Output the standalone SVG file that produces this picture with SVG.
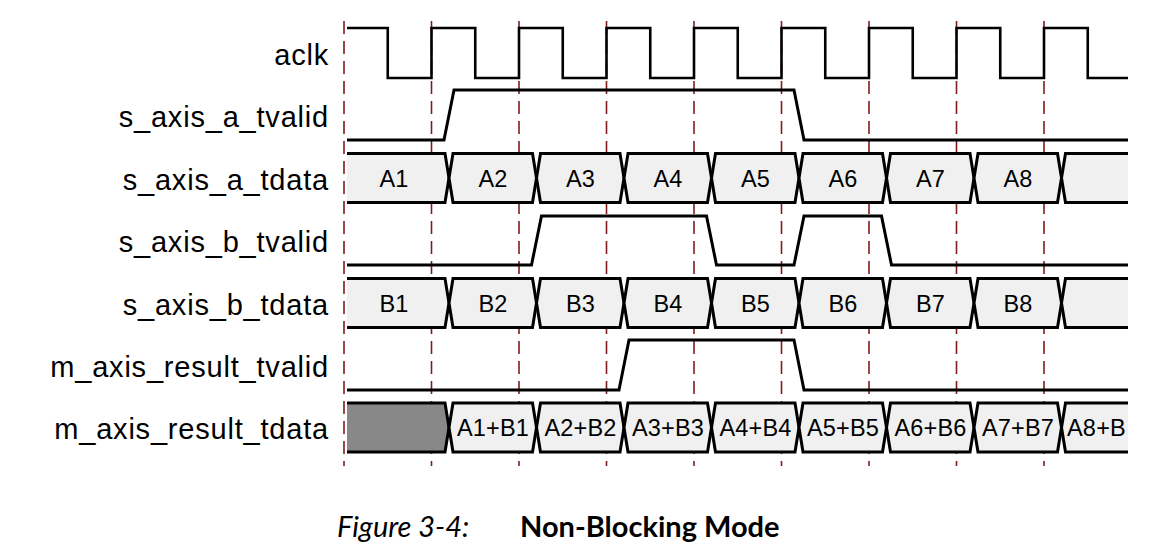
<svg xmlns="http://www.w3.org/2000/svg" xmlns:xlink="http://www.w3.org/1999/xlink" width="1163" height="556" viewBox="0 0 1163 556">
<style>
.lbl{font-family:"Liberation Sans",Arial,sans-serif;font-size:29px;letter-spacing:0.8px;fill:#000;text-anchor:end}
.dat{font-family:"Liberation Sans",Arial,sans-serif;font-size:23.5px;letter-spacing:0.2px;fill:#000;text-anchor:middle}
.grid{stroke:#7f1d1d;stroke-width:1.6;stroke-dasharray:13 7;fill:none}
.clk{stroke:#000;stroke-width:2.6;fill:none}
.sig{stroke:#000;stroke-width:3;fill:none;stroke-linejoin:miter}
.bus{stroke:#000;stroke-width:3;fill:#f0f0f0}
.busx{stroke:#000;stroke-width:3;fill:#888888}
.cap{font-family:"Lato","Open Sans",sans-serif;font-size:29px;fill:#000}
</style>
<defs>
<path id="hex" d="M0 24.5 L4 0 H83.5 L87.5 24.5 L83.5 49 H4 Z"/>
</defs>
<rect width="1163" height="556" fill="#fff"/>
<g id="grid">
<line class="grid" x1="344" y1="21" x2="344" y2="466"/>
<line class="grid" x1="431.5" y1="21" x2="431.5" y2="466"/>
<line class="grid" x1="519" y1="21" x2="519" y2="466"/>
<line class="grid" x1="606.5" y1="21" x2="606.5" y2="466"/>
<line class="grid" x1="694" y1="21" x2="694" y2="466"/>
<line class="grid" x1="781.5" y1="21" x2="781.5" y2="466"/>
<line class="grid" x1="869" y1="21" x2="869" y2="466"/>
<line class="grid" x1="956.5" y1="21" x2="956.5" y2="466"/>
<line class="grid" x1="1044" y1="21" x2="1044" y2="466"/>
</g>
<g id="aclk">
<text class="lbl" x="329" y="65">aclk</text>
<path class="clk" d="M347 28 H387.75 V78 H431.5 V28 H475.25 V78 H519 V28 H562.75 V78 H606.5 V28 H650.25 V78 H694 V28 H737.75 V78 H781.5 V28 H825.25 V78 H869 V28 H912.75 V78 H956.5 V28 H1000.25 V78 H1044 V28 H1087.75 V78 H1128"/>
</g>
<g id="s_axis_a_tvalid">
<text class="lbl" x="329" y="127">s_axis_a_tvalid</text>
<path class="sig" d="M347 140 H444 L454 90 H794 L804 140 H1128"/>
</g>
<g id="s_axis_a_tdata">
<text class="lbl" x="329" y="190">s_axis_a_tdata</text>
<path class="bus" d="M347 153.5 H445 L449 178 L445 202.5 H347"/>
<use href="#hex" xlink:href="#hex" class="bus" x="449" y="153.5"/>
<use href="#hex" xlink:href="#hex" class="bus" x="536.5" y="153.5"/>
<use href="#hex" xlink:href="#hex" class="bus" x="624" y="153.5"/>
<use href="#hex" xlink:href="#hex" class="bus" x="711.5" y="153.5"/>
<use href="#hex" xlink:href="#hex" class="bus" x="799" y="153.5"/>
<use href="#hex" xlink:href="#hex" class="bus" x="886.5" y="153.5"/>
<use href="#hex" xlink:href="#hex" class="bus" x="974" y="153.5"/>
<path class="bus" d="M1128 153.5 H1065.5 L1061.5 178 L1065.5 202.5 H1128"/>
<text class="dat" x="394" y="186.5">A1</text>
<text class="dat" x="493" y="186.5">A2</text>
<text class="dat" x="580.5" y="186.5">A3</text>
<text class="dat" x="668" y="186.5">A4</text>
<text class="dat" x="755.5" y="186.5">A5</text>
<text class="dat" x="843" y="186.5">A6</text>
<text class="dat" x="930.5" y="186.5">A7</text>
<text class="dat" x="1018" y="186.5">A8</text>
</g>
<g id="s_axis_b_tvalid">
<text class="lbl" x="329" y="252">s_axis_b_tvalid</text>
<path class="sig" d="M347 265 H531.5 L541.5 216 H706.5 L716.5 265 H794 L804 216 H881.5 L891.5 265 H1128"/>
</g>
<g id="s_axis_b_tdata">
<text class="lbl" x="329" y="315">s_axis_b_tdata</text>
<path class="bus" d="M347 278.5 H445 L449 303 L445 327.5 H347"/>
<use href="#hex" xlink:href="#hex" class="bus" x="449" y="278.5"/>
<use href="#hex" xlink:href="#hex" class="bus" x="536.5" y="278.5"/>
<use href="#hex" xlink:href="#hex" class="bus" x="624" y="278.5"/>
<use href="#hex" xlink:href="#hex" class="bus" x="711.5" y="278.5"/>
<use href="#hex" xlink:href="#hex" class="bus" x="799" y="278.5"/>
<use href="#hex" xlink:href="#hex" class="bus" x="886.5" y="278.5"/>
<use href="#hex" xlink:href="#hex" class="bus" x="974" y="278.5"/>
<path class="bus" d="M1128 278.5 H1065.5 L1061.5 303 L1065.5 327.5 H1128"/>
<text class="dat" x="394" y="311.5">B1</text>
<text class="dat" x="493" y="311.5">B2</text>
<text class="dat" x="580.5" y="311.5">B3</text>
<text class="dat" x="668" y="311.5">B4</text>
<text class="dat" x="755.5" y="311.5">B5</text>
<text class="dat" x="843" y="311.5">B6</text>
<text class="dat" x="930.5" y="311.5">B7</text>
<text class="dat" x="1018" y="311.5">B8</text>
</g>
<g id="m_axis_result_tvalid">
<text class="lbl" x="329" y="377">m_axis_result_tvalid</text>
<path class="sig" d="M347 390 H619 L629 340 H794 L804 390 H1128"/>
</g>
<g id="m_axis_result_tdata">
<text class="lbl" x="329" y="439">m_axis_result_tdata</text>
<path class="busx" d="M347 403 H445 L449 427.5 L445 452 H347"/>
<use href="#hex" xlink:href="#hex" class="bus" x="449" y="403"/>
<use href="#hex" xlink:href="#hex" class="bus" x="536.5" y="403"/>
<use href="#hex" xlink:href="#hex" class="bus" x="624" y="403"/>
<use href="#hex" xlink:href="#hex" class="bus" x="711.5" y="403"/>
<use href="#hex" xlink:href="#hex" class="bus" x="799" y="403"/>
<use href="#hex" xlink:href="#hex" class="bus" x="886.5" y="403"/>
<use href="#hex" xlink:href="#hex" class="bus" x="974" y="403"/>
<path class="bus" d="M1128 403 H1065.5 L1061.5 427.5 L1065.5 452 H1128"/>
<text class="dat" x="493" y="436">A1+B1</text>
<text class="dat" x="580.5" y="436">A2+B2</text>
<text class="dat" x="668" y="436">A3+B3</text>
<text class="dat" x="755.5" y="436">A4+B4</text>
<text class="dat" x="843" y="436">A5+B5</text>
<text class="dat" x="930.5" y="436">A6+B6</text>
<text class="dat" x="1018" y="436">A7+B7</text>
<text class="dat" x="1067" y="436" style="text-anchor:start">A8+B</text>
</g>
<g id="caption">
<text class="cap" x="337" y="537" font-style="italic">Figure 3-4:</text>
<text class="cap" x="520" y="537" font-weight="bold">Non-Blocking Mode</text>
</g>
</svg>
